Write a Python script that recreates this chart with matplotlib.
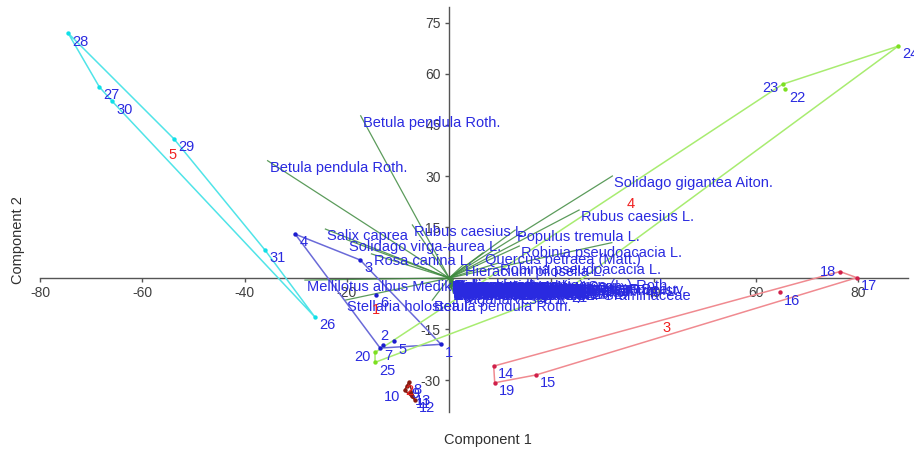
import numpy as np
import matplotlib
matplotlib.use("Agg")
import matplotlib.pyplot as plt

plt.rcParams['font.family'] = ['Liberation Sans', 'DejaVu Sans']

# ---------------- data ----------------
group_names = ["1", "2", "3", "4", "5"]
group_colors_pt = ["#1c1cd0", "#8a1a10", "#d0204a", "#7ce020", "#10e0e8"]
group_colors_ln = ["#6a6ad8", "#8a1a10", "#f08a90", "#a8ec70", "#50e4e8"]

# group 1 (samples 1-7)
g1_ids = [1, 2, 3, 4, 5, 6, 7]
g1_x = [-1.6, -13.0, -17.4, -30.1, -10.7, -14.3, -13.5]
g1_y = [-19.5, -19.8, 5.3, 12.9, -18.6, -5.0, -20.6]
# group 2 (samples 8-13)
g2_ids = [8, 9, 10, 11, 12, 13]
g2_x = [-7.9, -8.3, -8.7, -7.3, -6.7, -7.6]
g2_y = [-30.6, -31.8, -33.0, -34.6, -35.9, -33.6]
# group 3 (samples 14-19)
g3_ids = [14, 15, 16, 17, 18, 19]
g3_x = [8.7, 17.0, 64.6, 79.7, 76.4, 8.9]
g3_y = [-25.9, -28.5, -4.2, 0.1, 1.9, -30.8]
# group 4 (samples 20-25)
g4_ids = [20, 21, 22, 23, 24, 25]
g4_x = [-14.5, 23.0, 65.7, 65.2, 87.8, -14.5]
g4_y = [-21.9, -3.5, 55.5, 57.0, 68.2, -24.8]
# group 5 (samples 26-31)
g5_ids = [26, 27, 28, 29, 30, 31]
g5_x = [-26.3, -68.4, -74.5, -53.8, -65.9, -36.0]
g5_y = [-11.4, 56.2, 72.0, 40.9, 52.0, 8.2]

# species loadings (biplot vectors)
sp_names = [
    "Betula pendula Roth.", "Betula pendula Roth.", "Solidago gigantea Aiton.",
    "Rubus caesius L.", "Populus tremula L.", "", "Robinia pseudoacacia L.",
    "Quercus petraea (Matt.)", "Robinia pseudoacacia L.", "Hieracium pilosella L.",
    "Rubus caesius L.", "Salix caprea", "Solidago virga-aurea L.", "Rosa canina L.",
    "Mellilotus albus Medik.", "Stellaria holostea L.", "Betula pendula Roth.",
    "Fragaria vesca L.",
    "Calamagrostis epigejos (L.) Roth", "Tanacetum vulgare L.", "Achillea millefolium L.",
    "Arrhenatherum elatius (L.) P.Beauv.", "Dactylis glomerata L.", "Artemisia vulgaris L.",
    "Poa pratensis L.", "Festuca rubra L.", "Agrostis capillaris L.", "Daucus carota L.",
    "Hypericum perforatum L.", "Equisetum arvense L.", "Urtica dioica L.",
    "Galium mollugo L.", "Cirsium arvense (L.) Scop.", "Crataegus monogyna Jacq.",
    "Pinus sylvestris L.", "Conyza canadensis (L.) Cronquist", "Elymus repens (L.) Gould",
    "Trifolium pratense L.", "Lotus corniculatus L.", "Vicia cracca L.",
    "Plantago lanceolata L.", "Leucanthemum vulgare Lam.", "Erigeron annuus (L.) Pers.",
    "Picris hieracioides L.", "Medicago lupulina L.", "Agrimonia eupatoria L.",
    "Holcus lanatus L.", "Prunus spinosa L.", "Convolvulus arvensis L.",
    "Lathyrus pratensis L.", "Phragmites australis (Cav.) Trin.", "Linaria vulgaris Mill.",
    "Centaurea stoebe L.", "Epilobium angustifolium L.", "Rubus idaeus L.",
    "Cornus sanguinea L.", "Senecio jacobaea L.", "Bromus inermis Leyss.",
    "Melilotus officinalis (L.) Pall.", "Oenothera biennis L.", "Carex hirta L.",
    "Pastinaca sativa L.", "Sambucus nigra L.", "Elymus caninus (L.) L. Graminaceae",
]
sp_x = [
    -17.3, -35.5, 31.9, 25.4, 12.9, 31.8, 13.7, 6.6, 9.6, 2.7,
    -7.2, -24.2, -19.9, -15.2, -28.2, -20.3, -3.3, 0.8,
    0.4, 0.6, 0.3, 0.8, 0.5, 0.7, 0.2, 0.9, 0.4, 0.6, 1.0, 0.3, 0.5, 0.8, 0.2, 0.7,
    0.4, 0.9, 0.6, 0.3, 0.5, 0.8, 0.2, 0.6, 0.4, 0.7, 0.3, 0.9, 0.5, 0.2, 0.6, 0.8,
    0.4, 0.7, 0.3, 0.5, 0.6, 0.2, 0.9, 0.4, 0.7, 0.5, 0.3, 0.6, 0.8, 0.4,
]
sp_y = [
    47.7, 34.5, 30.0, 20.0, 14.1, 10.4, 9.4, 7.4, 4.4, 3.8,
    15.6, 14.4, 11.2, 7.1, -0.6, -6.5, -6.5, -4.4,
    -0.4, -0.8, -1.2, -1.6, -2.0, -2.4, -0.6, -1.0, -1.4, -1.8, -2.2, -2.6, -3.0,
    -0.3, -0.7, -1.1, -1.5, -1.9, -2.3, -2.7, -3.1, -0.5, -0.9, -1.3, -1.7, -2.1,
    -2.5, -2.9, -0.2, -0.6, -1.0, -1.4, -1.8, -2.2, -2.6, -3.0, -0.8, -1.6, -2.4,
    -1.2, -2.0, -2.8, -0.4, -1.5, -2.5, -3.3,
]

x_ticks = [-80, -60, -40, -20, 20, 40, 60, 80]
y_ticks = [-30, -15, 15, 30, 45, 60, 75]

# label placement overrides (offset in points, horizontal alignment)
label_override = {10: (-3, -5, "right"), 20: (-3, -3, "right"), 23: (-3, -3, "right"),
                  18: (-3, 0, "right"), 2: (-2, 7, "left")}

# ---------------- helpers ----------------
def convex_hull(px, py):
    pts = sorted(set(zip(px, py)))
    if len(pts) < 3:
        return pts
    def cross(o, a, b):
        return (a[0]-o[0])*(b[1]-o[1]) - (a[1]-o[1])*(b[0]-o[0])
    lower, upper = [], []
    for p in pts:
        while len(lower) >= 2 and cross(lower[-2], lower[-1], p) <= 0:
            lower.pop()
        lower.append(p)
    for p in reversed(pts):
        while len(upper) >= 2 and cross(upper[-2], upper[-1], p) <= 0:
            upper.pop()
        upper.append(p)
    return lower[:-1] + upper[:-1]

# ---------------- figure ----------------
fig = plt.figure(figsize=(9.14, 4.5), dpi=100)
ax = fig.add_axes([40/914, (450-412)/450, 868/914, 405/450])
ax.set_xlim(-80, 89.7)
ax.set_ylim(-39.4, 79.7)

for s in ["top", "right"]:
    ax.spines[s].set_visible(False)
ax.spines["left"].set_position(("data", 0))
ax.spines["bottom"].set_position(("data", 0))
for s in ["left", "bottom"]:
    ax.spines[s].set_color("#555555")
    ax.spines[s].set_linewidth(1.0)
    ax.spines[s].set_zorder(0.5)
ax.set_xticks(x_ticks)
ax.set_yticks(y_ticks)
ax.set_xticklabels([str(t) for t in x_ticks])
ax.set_yticklabels([str(t) for t in y_ticks])
ax.tick_params(axis="both", direction="out", length=3, width=1, color="#555555",
               labelsize=10, labelcolor="#404040", pad=3)

# species vectors
label_color = "#2a2ae0"
for name, vx, vy in zip(sp_names, sp_x, sp_y):
    ax.plot([0, vx], [0, vy], color="#3f8a3f", lw=0.9, alpha=0.85, zorder=1)

groups = [
    (g1_ids, g1_x, g1_y), (g2_ids, g2_x, g2_y), (g3_ids, g3_x, g3_y),
    (g4_ids, g4_x, g4_y), (g5_ids, g5_x, g5_y),
]

# hulls
for gi, (ids, gx, gy) in enumerate(groups):
    hull = convex_hull(gx, gy)
    hx = [p[0] for p in hull] + [hull[0][0]]
    hy = [p[1] for p in hull] + [hull[0][1]]
    ax.plot(hx, hy, color=group_colors_ln[gi], lw=1.1, zorder=2)

# points
for gi, (ids, gx, gy) in enumerate(groups):
    ax.scatter(gx, gy, s=10, color=group_colors_pt[gi], zorder=3, linewidths=0)

# species labels
for name, vx, vy in zip(sp_names, sp_x, sp_y):
    if name:
        ax.annotate(name, (vx, vy), xytext=(1.5, -5), textcoords="offset points",
                    ha="left", va="center", fontsize=10.5, color=label_color,
                    zorder=4, annotation_clip=False)

# point labels
for gi, (ids, gx, gy) in enumerate(groups):
    for i, x, y in zip(ids, gx, gy):
        dx, dy, ha = label_override.get(i, (3, -6, "left"))
        ax.annotate(str(i), (x, y), xytext=(dx, dy), textcoords="offset points",
                    ha=ha, va="center", fontsize=10.5, color=label_color,
                    zorder=5, annotation_clip=False)

# group centroid labels
for gi, (ids, gx, gy) in enumerate(groups):
    ax.text(np.mean(gx), np.mean(gy), group_names[gi], ha="center", va="center",
            fontsize=10.5, color="#f02020", zorder=5)

fig.text(488/914, 1 - 440/450, "Component 1", ha="center", va="center",
         fontsize=10.5, color="#303030")
fig.text(18/914, 1 - 240/450, "Component 2", ha="center", va="center",
         fontsize=10.5, color="#303030", rotation=90)

fig.savefig("out.png", dpi=100)
